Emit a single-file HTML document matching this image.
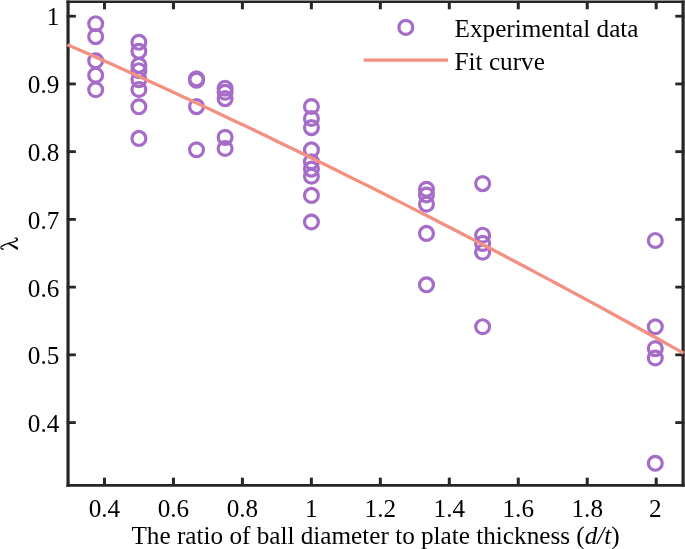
<!DOCTYPE html>
<html><head><meta charset="utf-8"><title>chart</title>
<style>
html,body{margin:0;padding:0;background:#fff;}
body{width:685px;height:549px;overflow:hidden;}
svg{display:block;will-change:transform;}
text{font-family:"Liberation Serif",serif;font-size:25.2px;fill:#000;}
</style></head><body>
<svg width="685" height="549" viewBox="0 0 685 549">
<rect x="0" y="0" width="685" height="549" fill="#fff"/>
<g fill="none" stroke="#a56cc8" stroke-width="3.2">
<circle cx="95.67" cy="23.70" r="6.93"/>
<circle cx="95.67" cy="36.60" r="6.93"/>
<circle cx="95.67" cy="60.80" r="6.93"/>
<circle cx="95.67" cy="75.20" r="6.93"/>
<circle cx="95.67" cy="89.75" r="6.93"/>
<circle cx="138.90" cy="42.30" r="6.93"/>
<circle cx="138.90" cy="51.30" r="6.93"/>
<circle cx="138.90" cy="65.30" r="6.93"/>
<circle cx="138.90" cy="70.70" r="6.93"/>
<circle cx="138.90" cy="79.60" r="6.93"/>
<circle cx="138.90" cy="89.50" r="6.93"/>
<circle cx="138.90" cy="106.80" r="6.93"/>
<circle cx="138.90" cy="138.40" r="6.93"/>
<circle cx="196.50" cy="78.85" r="6.93"/>
<circle cx="196.50" cy="80.15" r="6.93"/>
<circle cx="196.50" cy="106.60" r="6.93"/>
<circle cx="196.50" cy="149.74" r="6.93"/>
<circle cx="225.10" cy="88.20" r="6.93"/>
<circle cx="225.10" cy="92.30" r="6.93"/>
<circle cx="225.10" cy="98.60" r="6.93"/>
<circle cx="225.10" cy="137.35" r="6.93"/>
<circle cx="225.10" cy="148.50" r="6.93"/>
<circle cx="311.42" cy="106.50" r="6.93"/>
<circle cx="311.42" cy="118.50" r="6.93"/>
<circle cx="311.42" cy="127.60" r="6.93"/>
<circle cx="311.42" cy="149.90" r="6.93"/>
<circle cx="311.42" cy="161.70" r="6.93"/>
<circle cx="311.42" cy="169.10" r="6.93"/>
<circle cx="311.42" cy="176.20" r="6.93"/>
<circle cx="311.42" cy="195.40" r="6.93"/>
<circle cx="311.42" cy="222.00" r="6.93"/>
<circle cx="426.47" cy="189.30" r="6.93"/>
<circle cx="426.47" cy="195.00" r="6.93"/>
<circle cx="426.47" cy="204.20" r="6.93"/>
<circle cx="426.47" cy="233.40" r="6.93"/>
<circle cx="426.47" cy="284.80" r="6.93"/>
<circle cx="482.63" cy="183.60" r="6.93"/>
<circle cx="482.63" cy="235.20" r="6.93"/>
<circle cx="482.63" cy="243.40" r="6.93"/>
<circle cx="482.63" cy="252.20" r="6.93"/>
<circle cx="482.63" cy="326.70" r="6.93"/>
<circle cx="655.30" cy="240.44" r="6.93"/>
<circle cx="655.30" cy="326.76" r="6.93"/>
<circle cx="655.30" cy="348.60" r="6.93"/>
<circle cx="655.30" cy="358.00" r="6.93"/>
<circle cx="655.30" cy="463.30" r="6.93"/>
</g>
<g stroke="#262626" fill="none">
<line x1="104.47" y1="485.3" x2="104.47" y2="477.65" stroke-width="3.0"/>
<line x1="104.47" y1="1.75" x2="104.47" y2="9.3" stroke-width="3.0"/>
<line x1="173.44" y1="485.3" x2="173.44" y2="477.65" stroke-width="3.0"/>
<line x1="173.44" y1="1.75" x2="173.44" y2="9.3" stroke-width="3.0"/>
<line x1="242.40" y1="485.3" x2="242.40" y2="477.65" stroke-width="3.0"/>
<line x1="242.40" y1="1.75" x2="242.40" y2="9.3" stroke-width="3.0"/>
<line x1="311.37" y1="485.3" x2="311.37" y2="477.65" stroke-width="3.0"/>
<line x1="311.37" y1="1.75" x2="311.37" y2="9.3" stroke-width="3.0"/>
<line x1="380.33" y1="485.3" x2="380.33" y2="477.65" stroke-width="3.0"/>
<line x1="380.33" y1="1.75" x2="380.33" y2="9.3" stroke-width="3.0"/>
<line x1="449.30" y1="485.3" x2="449.30" y2="477.65" stroke-width="3.0"/>
<line x1="449.30" y1="1.75" x2="449.30" y2="9.3" stroke-width="3.0"/>
<line x1="518.27" y1="485.3" x2="518.27" y2="477.65" stroke-width="3.0"/>
<line x1="518.27" y1="1.75" x2="518.27" y2="9.3" stroke-width="3.0"/>
<line x1="587.23" y1="485.3" x2="587.23" y2="477.65" stroke-width="3.0"/>
<line x1="587.23" y1="1.75" x2="587.23" y2="9.3" stroke-width="3.0"/>
<line x1="656.20" y1="485.3" x2="656.20" y2="477.65" stroke-width="3.0"/>
<line x1="656.20" y1="1.75" x2="656.20" y2="9.3" stroke-width="3.0"/>
<line x1="66.75" y1="422.58" x2="75.85" y2="422.58" stroke-width="2.8"/>
<line x1="684.40" y1="422.58" x2="675.30" y2="422.58" stroke-width="2.8"/>
<line x1="66.75" y1="354.85" x2="75.85" y2="354.85" stroke-width="2.8"/>
<line x1="684.40" y1="354.85" x2="675.30" y2="354.85" stroke-width="2.8"/>
<line x1="66.75" y1="287.12" x2="75.85" y2="287.12" stroke-width="2.8"/>
<line x1="684.40" y1="287.12" x2="675.30" y2="287.12" stroke-width="2.8"/>
<line x1="66.75" y1="219.39" x2="75.85" y2="219.39" stroke-width="2.8"/>
<line x1="684.40" y1="219.39" x2="675.30" y2="219.39" stroke-width="2.8"/>
<line x1="66.75" y1="151.66" x2="75.85" y2="151.66" stroke-width="2.8"/>
<line x1="684.40" y1="151.66" x2="675.30" y2="151.66" stroke-width="2.8"/>
<line x1="66.75" y1="83.93" x2="75.85" y2="83.93" stroke-width="2.8"/>
<line x1="684.40" y1="83.93" x2="675.30" y2="83.93" stroke-width="2.8"/>
<line x1="66.75" y1="16.20" x2="75.85" y2="16.20" stroke-width="2.8"/>
<line x1="684.40" y1="16.20" x2="675.30" y2="16.20" stroke-width="2.8"/>
<line x1="68.05" y1="0.3999999999999999" x2="68.05" y2="486.65000000000003" stroke-width="3.2"/>
<line x1="683.1" y1="0.3999999999999999" x2="683.1" y2="486.65000000000003" stroke-width="3.2"/>
<line x1="66.45" y1="1.75" x2="684.7" y2="1.75" stroke-width="2.7"/>
<line x1="66.45" y1="485.3" x2="684.7" y2="485.3" stroke-width="2.7"/>
</g>
<path d="M67.40,44.78 L77.84,49.27 L88.29,53.83 L98.73,58.43 L109.18,63.07 L119.62,67.74 L130.06,72.45 L140.51,77.19 L150.95,81.95 L161.40,86.74 L171.84,91.55 L182.28,96.39 L192.73,101.25 L203.17,106.13 L213.62,111.03 L224.06,115.95 L234.51,120.90 L244.95,125.86 L255.39,130.85 L265.84,135.86 L276.28,140.89 L286.73,145.94 L297.17,151.01 L307.61,156.10 L318.06,161.21 L328.50,166.34 L338.95,171.50 L349.39,176.67 L359.83,181.87 L370.28,187.08 L380.72,192.32 L391.17,197.57 L401.61,202.85 L412.05,208.15 L422.50,213.47 L432.94,218.81 L443.39,224.17 L453.83,229.55 L464.27,234.95 L474.72,240.37 L485.16,245.81 L495.61,251.28 L506.05,256.76 L516.49,262.27 L526.94,267.79 L537.38,273.34 L547.83,278.91 L558.27,284.49 L568.72,290.10 L579.16,295.73 L589.60,301.38 L600.05,307.05 L610.49,312.74 L620.94,318.45 L631.38,324.18 L641.82,329.94 L652.27,335.71 L662.71,341.50 L673.16,347.32 L683.60,353.15" fill="none" stroke="#f39082" stroke-width="3.3"/>
<text x="104.47" y="516.8" text-anchor="middle">0.4</text>
<text x="173.44" y="516.8" text-anchor="middle">0.6</text>
<text x="242.40" y="516.8" text-anchor="middle">0.8</text>
<text x="311.37" y="516.8" text-anchor="middle">1</text>
<text x="380.33" y="516.8" text-anchor="middle">1.2</text>
<text x="449.30" y="516.8" text-anchor="middle">1.4</text>
<text x="518.27" y="516.8" text-anchor="middle">1.6</text>
<text x="587.23" y="516.8" text-anchor="middle">1.8</text>
<text x="655.40" y="516.8" text-anchor="middle">2</text>
<text x="59.3" y="431.80" text-anchor="end">0.4</text>
<text x="59.3" y="364.30" text-anchor="end">0.5</text>
<text x="59.3" y="296.80" text-anchor="end">0.6</text>
<text x="59.3" y="229.30" text-anchor="end">0.7</text>
<text x="59.3" y="161.10" text-anchor="end">0.8</text>
<text x="59.3" y="93.30" text-anchor="end">0.9</text>
<text x="59.3" y="25.00" text-anchor="end">1</text>
<text x="375.6" y="543.5" text-anchor="middle">The ratio of ball diameter to plate thickness (<tspan font-style="italic">d/t</tspan>)</text>
<g fill="#000" stroke="none">
<path d="M0.3,246.9 C1.6,245.3 5.0,243.8 9.0,242.6 C12.3,241.7 14.4,241.3 15.7,240.4 C16.5,239.8 16.5,239.0 15.8,238.6 C15.3,238.4 14.8,238.4 14.4,238.7 L14.1,238.1 C14.9,237.5 16.3,237.4 17.2,238.0 C18.4,238.9 18.2,240.4 17.0,241.3 C15.6,242.3 13.0,242.9 9.6,243.7 C5.8,244.7 2.6,246.0 1.2,247.3 C1.6,248.2 2.6,248.6 3.8,248.8 L3.7,250.0 C1.6,250.0 0.1,248.7 0.3,246.9 Z"/>
<path d="M7.6,243.3 L9.2,243.0 L17.8,247.2 L17.8,250.0 L17.5,250.0 L7.6,243.8 Z"/>
</g>
<circle cx="405.84" cy="27.38" r="6.93" fill="none" stroke="#a56cc8" stroke-width="3.2"/>
<line x1="363.7" y1="60.2" x2="448" y2="60.2" stroke="#f39082" stroke-width="3.3"/>
<text x="454.6" y="36.9">Experimental data</text>
<text x="454.6" y="69.8">Fit curve</text>
</svg></body></html>
